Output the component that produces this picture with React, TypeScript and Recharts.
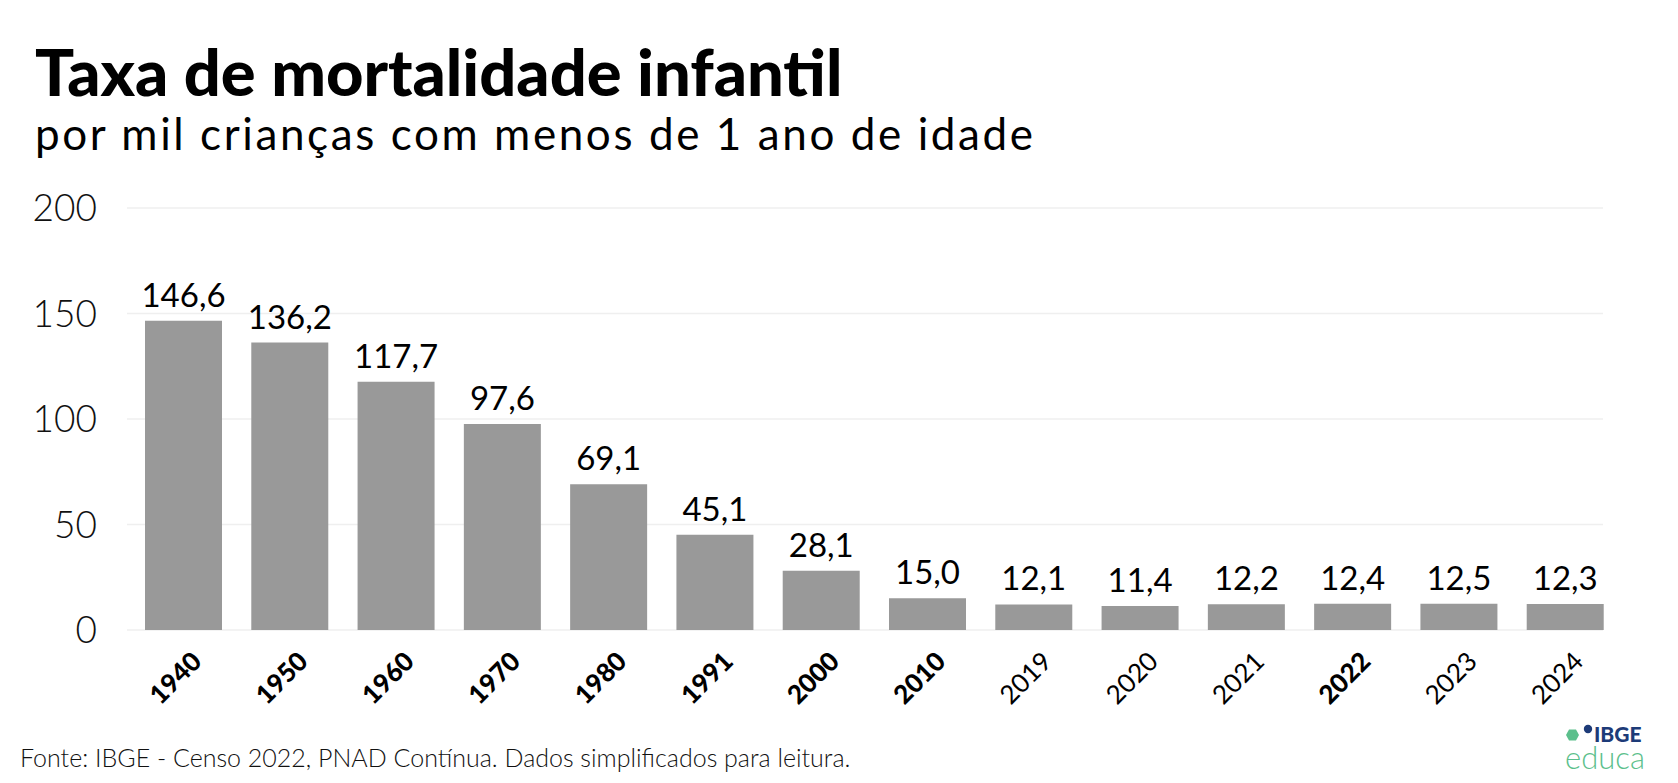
import React from 'react';
import { BarChart, Bar, XAxis, YAxis, CartesianGrid, LabelList } from 'recharts';

const YEARS = ['1940', '1950', '1960', '1970', '1980', '1991', '2000', '2010', '2019', '2020', '2021', '2022', '2023', '2024'];
const RATES = [146.6, 136.2, 117.7, 97.6, 69.1, 45.1, 28.1, 15.0, 12.1, 11.4, 12.2, 12.4, 12.5, 12.3];
// census years are drawn in bold on the axis
const CENSUS_YEARS = ['1940', '1950', '1960', '1970', '1980', '1991', '2000', '2010', '2022'];
const Y_TICKS = [0, 50, 100, 150, 200];

const data = YEARS.map((year, i) => ({ year, rate: RATES[i] }));

const W = 1678;
const H = 783;
const FONT = 'Lato, "Open Sans", sans-serif';

const fmt = (v: number) => v.toFixed(1).replace('.', ',');

const YearTick = (props: any) => {
  const { x, y, payload } = props;
  const bold = CENSUS_YEARS.includes(payload.value);
  return (
    <g transform={`translate(${x + 20},${y + 25})`}>
      <text
        transform="rotate(-45)"
        textAnchor="end"
        fontFamily={FONT}
        fontSize={26}
        fontWeight={bold ? 900 : 400}
        fill="#000"
      >
        {payload.value}
      </text>
    </g>
  );
};

const GridLine = (props: any) => (
  <line
    key={props.key}
    x1={props.x1 - 3}
    x2={props.x2 - 15}
    y1={props.y1}
    y2={props.y2}
    stroke="#efefef"
    strokeWidth={1.5}
  />
);

const App: React.FC = () => {
  return (
    <div style={{ position: 'absolute', left: 0, top: 0, width: W, height: H, background: '#fff' }}>
      <svg width={W} height={H} style={{ position: 'absolute', left: 0, top: 0 }}>
        <text x={35} y={96} fontFamily={FONT} fontSize={65} fontWeight={900} fill="#000">
          Taxa de mortalidade infantil
        </text>
        <text
          x={35}
          y={150}
          fontFamily={FONT}
          fontSize={44}
          fontWeight={400}
          fill="#000"
          textLength={998}
          lengthAdjust="spacing"
        >
          por mil crianças com menos de 1 ano de idade
        </text>
        <text x={20} y={767} fontFamily={FONT} fontSize={25} fontWeight={300} fill="#111">
          Fonte: IBGE - Censo 2022, PNAD Contínua. Dados simplificados para leitura.
        </text>
        {/* IBGE educa mark */}
        <polygon points="1566,735 1569,729.4 1576,729.4 1579,735 1576,740.6 1569,740.6" fill="#5cbf8c" />
        <circle cx={1588} cy={729} r={4.2} fill="#1d3b78" />
        <text fontFamily={FONT}>
          <tspan x={1594} y={742} fontSize={21} fontWeight={900} fill="#1d3b78">IBGE</tspan>
          <tspan x={1565} y={769} fontSize={31} fontWeight={300} fill="#5cbf8c">educa</tspan>
        </text>
      </svg>
      <div style={{ position: 'absolute', left: 0, top: 0 }}>
        <BarChart
          width={W}
          height={H}
          data={data}
          margin={{ top: 208, right: 60, left: 0, bottom: 53 }}
          barSize={77}
        >
          <CartesianGrid vertical={false} horizontal={GridLine} />
          <XAxis
            dataKey="year"
            axisLine={false}
            tickLine={false}
            interval={0}
            height={100}
            tick={<YearTick />}
          />
          <YAxis
            width={130}
            domain={[0, 200]}
            ticks={Y_TICKS}
            axisLine={false}
            tickLine={false}
            tickSize={0}
            tickMargin={33}
            tick={{ fill: '#111', fontSize: 37, fontFamily: FONT, fontWeight: 300 }}
          />
          <Bar dataKey="rate" fill="#999999" isAnimationActive={false}>
            <LabelList
              dataKey="rate"
              position="top"
              offset={14}
              formatter={(v: any) => fmt(Number(v))}
              style={{ fill: '#000', fontSize: 33, fontFamily: FONT, fontWeight: 400 }}
            />
          </Bar>
        </BarChart>
      </div>
    </div>
  );
};

export default App;
